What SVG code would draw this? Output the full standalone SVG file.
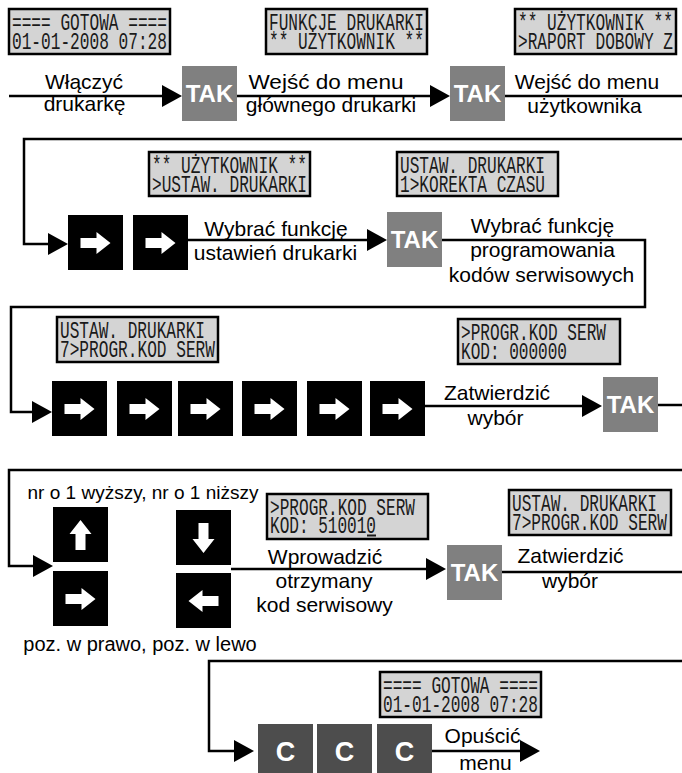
<svg xmlns="http://www.w3.org/2000/svg" width="682" height="773" viewBox="0 0 682 773">
<defs>
<style>
.lcd rect{fill:#d4d4d4;stroke:#000;stroke-width:2.5}
.lcd text{font-family:"Liberation Mono","DejaVu Sans Mono",monospace;font-size:23.5px;fill:#1a1a1a}
.cur{stroke:#1a1a1a;stroke-width:2}
.lbl{font-family:"Liberation Sans",Arial,sans-serif;font-size:21px;fill:#000;text-anchor:middle}
.tak rect{fill:#808080}
.tak text{font-family:"Liberation Sans",Arial,sans-serif;font-weight:bold;font-size:24px;fill:#fff;text-anchor:middle}
.key rect{fill:#000}
.key path{fill:#fff}
.ckey rect{fill:#4d4d4d}
.ckey text{font-family:"Liberation Sans",Arial,sans-serif;font-weight:bold;font-size:27px;fill:#fff;text-anchor:middle}
.conn{fill:none;stroke:#000;stroke-width:2.5;marker-end:url(#ah)}
.plain{fill:none;stroke:#000;stroke-width:2.5}
</style>
<marker id="ah" markerUnits="userSpaceOnUse" markerWidth="22" markerHeight="22" refX="16" refY="11" orient="auto">
<path d="M0,0 L20,11 L0,22 Z" fill="#000"/>
</marker>
<path id="wa" d="M-15,-5 H1 V-11 L15,0 L1,11 V5 H-15 Z"/>
</defs>
<rect width="682" height="773" fill="#fff"/>

<g id="connectors">
<path class="conn" d="M9,96 H178"/>
<path class="conn" d="M237,96 H446"/>
<path class="plain" d="M505,96 H682"/>
<path class="conn" d="M682,139 H24 V244 H64"/>
<path class="conn" d="M188,240 H383"/>
<path class="conn" d="M442,240 H645 V307 H11 V412 H48"/>
<path class="conn" d="M425,406 H598"/>
<path class="plain" d="M658,405 H682"/>
<path class="conn" d="M682,470 H9 V566 H49"/>
<path class="conn" d="M231,569 H442"/>
<path class="plain" d="M502,572 H682"/>
<path class="conn" d="M682,661 H209 V751 H250"/>
<path class="conn" d="M432,751 H536"/>
</g>

<g id="lcd1" class="lcd"><rect x="9" y="9" width="161" height="45"/>
<text x="12" y="30" textLength="155" lengthAdjust="spacingAndGlyphs">==== GOTOWA ====</text>
<text x="12" y="49" textLength="155" lengthAdjust="spacingAndGlyphs">01-01-2008 07:28</text></g>
<g id="lcd2" class="lcd"><rect x="266" y="9" width="161" height="45"/>
<text x="269" y="30" textLength="155" lengthAdjust="spacingAndGlyphs">FUNKCJE DRUKARKI</text>
<text x="269" y="49" textLength="155" lengthAdjust="spacingAndGlyphs">** UŻYTKOWNIK **</text></g>
<g id="lcd3" class="lcd"><rect x="515" y="9" width="161" height="45"/>
<text x="518" y="30" textLength="155" lengthAdjust="spacingAndGlyphs">** UŻYTKOWNIK **</text>
<text x="518" y="49" textLength="155" lengthAdjust="spacingAndGlyphs">&gt;RAPORT DOBOWY Z</text></g>
<g id="lcd4" class="lcd"><rect x="149" y="152" width="161" height="44"/>
<text x="152" y="173" textLength="155" lengthAdjust="spacingAndGlyphs">** UŻYTKOWNIK **</text>
<text x="152" y="191.5" textLength="155" lengthAdjust="spacingAndGlyphs">&gt;USTAW. DRUKARKI</text></g>
<g id="lcd5" class="lcd"><rect x="397" y="152" width="161" height="44"/>
<text x="400" y="173" textLength="145" lengthAdjust="spacingAndGlyphs">USTAW. DRUKARKI</text>
<text x="400" y="191.5" textLength="145" lengthAdjust="spacingAndGlyphs">1&gt;KOREKTA CZASU</text></g>
<g id="lcd6" class="lcd"><rect x="57" y="317" width="161" height="45"/>
<text x="60" y="338" textLength="145" lengthAdjust="spacingAndGlyphs">USTAW. DRUKARKI</text>
<text x="60" y="357" textLength="155" lengthAdjust="spacingAndGlyphs">7&gt;PROGR.KOD SERW</text></g>
<g id="lcd7" class="lcd"><rect x="458" y="319" width="162" height="45"/>
<text x="461" y="340" textLength="145" lengthAdjust="spacingAndGlyphs">&gt;PROGR.KOD SERW</text>
<text x="461" y="359" textLength="106" lengthAdjust="spacingAndGlyphs">KOD: 000000</text></g>
<g id="lcd8" class="lcd"><rect x="267" y="494" width="161" height="45"/>
<text x="270" y="514.5" textLength="145" lengthAdjust="spacingAndGlyphs">&gt;PROGR.KOD SERW</text>
<text x="270" y="532.5" textLength="106" lengthAdjust="spacingAndGlyphs">KOD: 510010</text>
<line class="cur" x1="367" y1="535.5" x2="376" y2="535.5"/></g>
<g id="lcd9" class="lcd"><rect x="509" y="490" width="162" height="45"/>
<text x="512" y="511" textLength="145" lengthAdjust="spacingAndGlyphs">USTAW. DRUKARKI</text>
<text x="512" y="530" textLength="155" lengthAdjust="spacingAndGlyphs">7&gt;PROGR.KOD SERW</text></g>
<g id="lcd10" class="lcd"><rect x="380" y="672" width="161" height="45"/>
<text x="383" y="693" textLength="155" lengthAdjust="spacingAndGlyphs">==== GOTOWA ====</text>
<text x="383" y="712" textLength="155" lengthAdjust="spacingAndGlyphs">01-01-2008 07:28</text></g>

<g id="tak1" class="tak"><rect x="182" y="66" width="55" height="55"/><text x="209.5" y="102">TAK</text></g>
<g id="tak2" class="tak"><rect x="450" y="66" width="55" height="55"/><text x="477.5" y="102">TAK</text></g>
<g id="tak3" class="tak"><rect x="387" y="212" width="55" height="55"/><text x="414.5" y="248">TAK</text></g>
<g id="tak4" class="tak"><rect x="603" y="377" width="55" height="55"/><text x="630.5" y="413">TAK</text></g>
<g id="tak5" class="tak"><rect x="447" y="545" width="55" height="55"/><text x="474.5" y="581">TAK</text></g>

<g id="key_r2a" class="key"><rect x="68" y="215" width="55" height="55"/><use href="#wa" transform="translate(95.5,243)" fill="#fff"/></g>
<g id="key_r2b" class="key"><rect x="133" y="215" width="55" height="55"/><use href="#wa" transform="translate(160.5,243)" fill="#fff"/></g>

<g id="key_r3a" class="key"><rect x="52" y="381" width="55" height="55"/><use href="#wa" transform="translate(79.5,409)" fill="#fff"/></g>
<g id="key_r3b" class="key"><rect x="117" y="381" width="55" height="55"/><use href="#wa" transform="translate(144.5,409)" fill="#fff"/></g>
<g id="key_r3c" class="key"><rect x="178" y="381" width="55" height="55"/><use href="#wa" transform="translate(205.5,409)" fill="#fff"/></g>
<g id="key_r3d" class="key"><rect x="242" y="381" width="55" height="55"/><use href="#wa" transform="translate(269.5,409)" fill="#fff"/></g>
<g id="key_r3e" class="key"><rect x="307" y="381" width="55" height="55"/><use href="#wa" transform="translate(334.5,409)" fill="#fff"/></g>
<g id="key_r3f" class="key"><rect x="370" y="381" width="55" height="55"/><use href="#wa" transform="translate(397.5,409)" fill="#fff"/></g>

<g id="key_up" class="key"><rect x="53" y="507" width="55" height="55"/><use href="#wa" transform="translate(80.5,535) rotate(-90)" fill="#fff"/></g>
<g id="key_right" class="key"><rect x="53" y="571" width="55" height="55"/><use href="#wa" transform="translate(80.5,599)" fill="#fff"/></g>
<g id="key_down" class="key"><rect x="176" y="510" width="55" height="55"/><use href="#wa" transform="translate(203.5,538) rotate(90)" fill="#fff"/></g>
<g id="key_left" class="key"><rect x="176" y="573" width="55" height="55"/><use href="#wa" transform="translate(203.5,601) rotate(180)" fill="#fff"/></g>

<g id="c1" class="ckey"><rect x="258" y="724" width="55" height="55"/><text x="285.5" y="761">C</text></g>
<g id="c2" class="ckey"><rect x="317" y="724" width="55" height="55"/><text x="344.5" y="761">C</text></g>
<g id="c3" class="ckey"><rect x="377" y="724" width="55" height="55"/><text x="404.5" y="761">C</text></g>

<g id="labels">
<text class="lbl" x="84" y="89">Włączyć</text>
<text class="lbl" x="84.5" y="111">drukarkę</text>
<text class="lbl" x="326" y="89" textLength="155" lengthAdjust="spacingAndGlyphs">Wejść do menu</text>
<text class="lbl" x="331" y="112">głównego drukarki</text>
<text class="lbl" x="587" y="89">Wejść do menu</text>
<text class="lbl" x="584.5" y="113">użytkownika</text>
<text class="lbl" x="276" y="236">Wybrać funkcję</text>
<text class="lbl" x="275.5" y="260">ustawień drukarki</text>
<text class="lbl" x="542.5" y="233">Wybrać funkcję</text>
<text class="lbl" x="542.5" y="257">programowania</text>
<text class="lbl" x="541.5" y="282">kodów serwisowych</text>
<text class="lbl" x="497" y="400">Zatwierdzić</text>
<text class="lbl" x="495.5" y="425">wybór</text>
<text class="lbl" x="143" y="499" style="font-size:19px">nr o 1 wyższy, nr o 1 niższy</text>
<text class="lbl" x="140" y="651" style="font-size:20px">poz. w prawo, poz. w lewo</text>
<text class="lbl" x="325" y="564">Wprowadzić</text>
<text class="lbl" x="324" y="588">otrzymany</text>
<text class="lbl" x="324.5" y="612">kod serwisowy</text>
<text class="lbl" x="570.5" y="563">Zatwierdzić</text>
<text class="lbl" x="570" y="588">wybór</text>
<text class="lbl" x="482.5" y="743">Opuścić</text>
<text class="lbl" x="485.5" y="770">menu</text>
</g>
</svg>
